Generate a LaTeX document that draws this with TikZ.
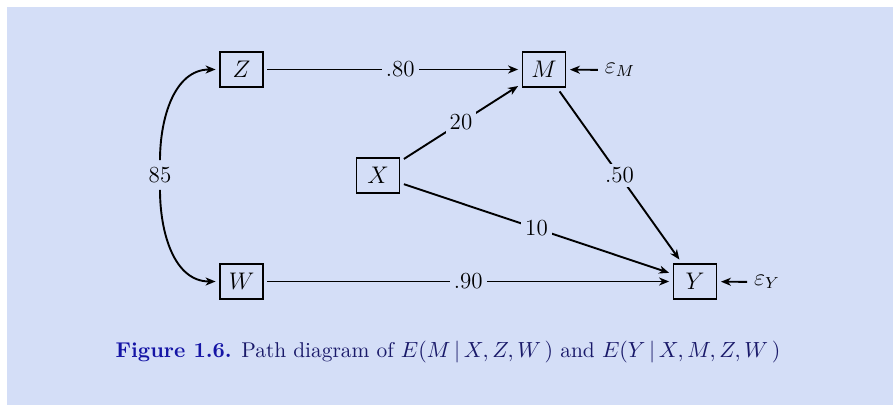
\documentclass[tikz,border=0pt]{standalone}
\usetikzlibrary{arrows.meta}
\definecolor{bgblue}{RGB}{212,222,247}
\definecolor{capblue}{RGB}{20,20,165}
\definecolor{capnavy}{RGB}{25,25,105}
\begin{document}
\begin{tikzpicture}[x=0.5pt,y=-0.5pt,
  font=\fontsize{11.5}{14}\selectfont,
  var/.style={draw,line width=0.9pt,minimum width=21.5pt,minimum height=17.5pt,inner sep=0pt,outer sep=2.2pt},
  conn/.style={line width=0.95pt,-{Stealth[length=5pt,width=4pt,inset=1.5pt]}},
  lab/.style={fill=bgblue,inner sep=2pt}]
\fill[white] (0,0) rectangle (893,405);
\fill[bgblue] (7,7) rectangle (893,405);
\useasboundingbox (0,0) rectangle (893,405);
\node[var] (Z) at (241.5,69.5) {$Z$};
\node[var] (W) at (241.5,281.5) {$W$};
\node[var] (M) at (544,69.5) {$M$};
\node[var] (X) at (378,175.5) {$X$};
\node[var] (Y) at (695,281.5) {$Y$};
\node (eM) at (620,70) {$\varepsilon_M$};
\node (eY) at (767,282) {$\varepsilon_Y$};
\node (r) at (160,175) {85};
\draw[conn] (Z) -- node[lab,pos=0.53] {.80} (M);
\draw[conn] (X) -- node[lab,pos=0.5] {20} (M);
\draw[conn] (X) -- node[lab,pos=0.5] {10} (Y);
\draw[conn] (M) -- node[lab,pos=0.5] {.50} (Y);
\draw[conn] (W) -- node[lab,pos=0.5] {.90} (Y);
\draw[conn] (eM) -- (M);
\draw[conn] (eY) -- (Y);
\draw[conn] (r.north) to[out=90,in=180] (Z.west);
\draw[conn] (r.south) to[out=-90,in=180] (W.west);
\node[text=capnavy,font=\fontsize{10.7}{13}\selectfont] (cap) at (448,352) {\textcolor{capblue}{\textbf{Figure 1.6.}} Path diagram of $E(M\,|\,X,Z,W\,)$ and $E(Y\,|\,X,M,Z,W\,)$};
\end{tikzpicture}
\end{document}
